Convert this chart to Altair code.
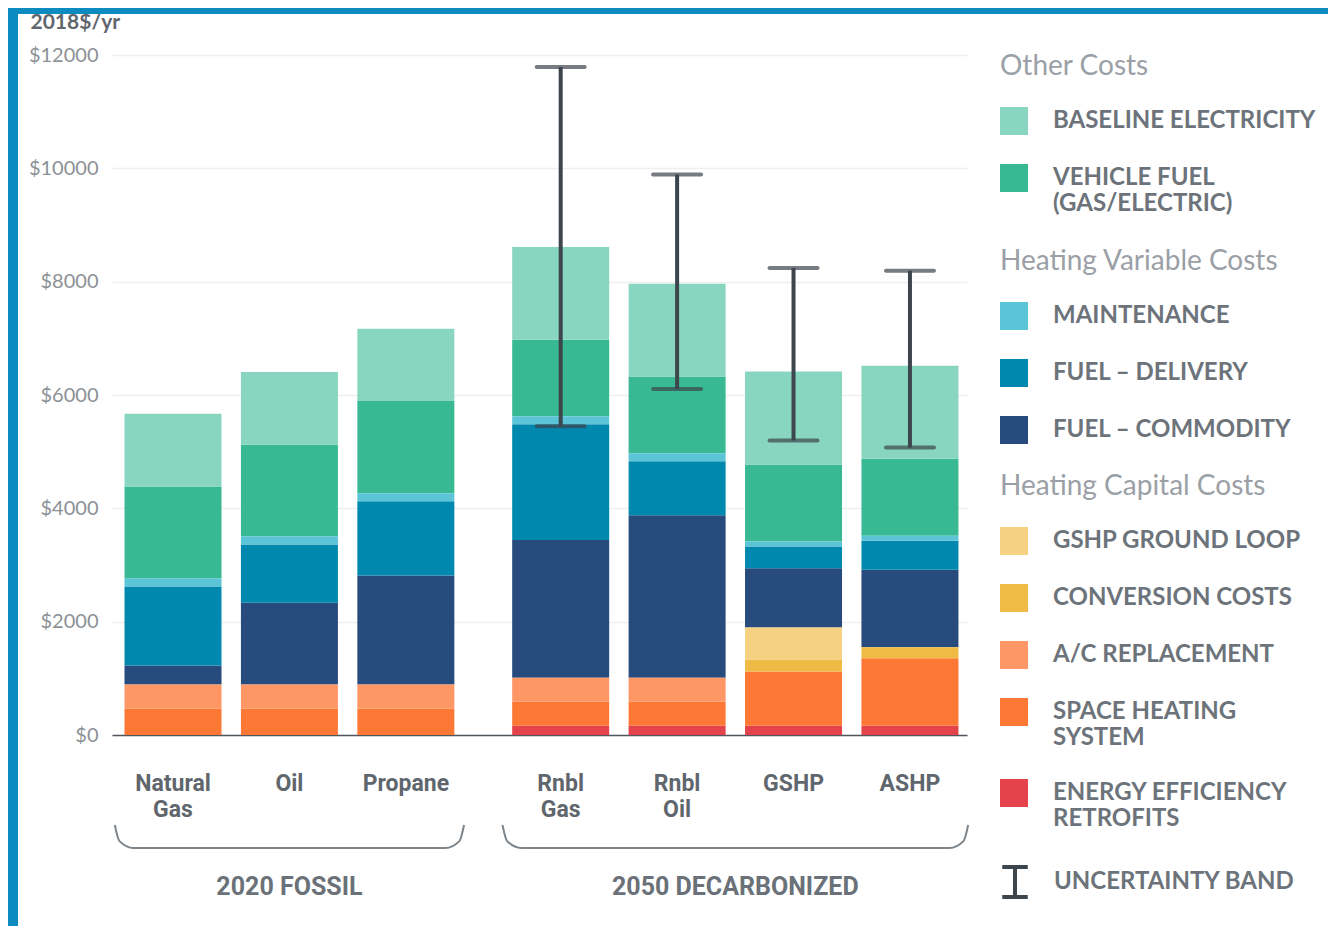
import altair as alt
import pandas as pd

# ---------------- data ----------------
techs = ["Natural Gas", "Oil", "Propane", "Rnbl Gas", "Rnbl Oil", "GSHP", "ASHP"]
tech_labels = ["Natural\nGas", "Oil", "Propane", "Rnbl\nGas", "Rnbl\nOil", "GSHP", "ASHP"]
group_names = ["2020 FOSSIL", "2050 DECARBONIZED"]
tech_group = [0, 0, 0, 1, 1, 1, 1]

# stacked components, bottom to top (2018$/yr)
energy_efficiency = [0, 0, 0, 162, 162, 162, 162]
space_heating = [462, 462, 462, 424, 424, 959, 1194]
ac_replacement = [429, 429, 429, 423, 423, 0, 0]
conversion_costs = [0, 0, 0, 0, 0, 206, 194]
ground_loop = [0, 0, 0, 0, 0, 570, 0]
fuel_commodity = [336, 1442, 1924, 2430, 2871, 1047, 1365]
fuel_delivery = [1394, 1029, 1312, 2047, 953, 383, 511]
maintenance = [147, 142, 141, 141, 141, 88, 88]
vehicle_fuel = [1618, 1618, 1624, 1348, 1354, 1359, 1359]
baseline_electricity = [1283, 1282, 1277, 1635, 1636, 1642, 1641]

unc_low = [None, None, None, 5450, 6104, 5198, 5074]
unc_high = [None, None, None, 11787, 9893, 8239, 8193]

y_ticks = [0, 2000, 4000, 6000, 8000, 10000, 12000]

# ---------------- styling ----------------
components = [
    ("ENERGY EFFICIENCY\nRETROFITS", energy_efficiency, "#e5434b"),
    ("SPACE HEATING\nSYSTEM", space_heating, "#fe7835"),
    ("A/C REPLACEMENT", ac_replacement, "#fe9665"),
    ("CONVERSION COSTS", conversion_costs, "#f0bb45"),
    ("GSHP GROUND LOOP", ground_loop, "#f5d181"),
    ("FUEL – COMMODITY", fuel_commodity, "#264b7c"),
    ("FUEL – DELIVERY", fuel_delivery, "#0088af"),
    ("MAINTENANCE", maintenance, "#5bc4d6"),
    ("VEHICLE FUEL\n(GAS/ELECTRIC)", vehicle_fuel, "#38b994"),
    ("BASELINE ELECTRICITY", baseline_electricity, "#88d6bf"),
]
colors = {name: col for name, _, col in components}

legend_groups = [
    ("Other Costs", ["BASELINE ELECTRICITY", "VEHICLE FUEL\n(GAS/ELECTRIC)"], -2),
    ("Heating Variable Costs", ["MAINTENANCE", "FUEL – DELIVERY", "FUEL – COMMODITY"], 193),
    ("Heating Capital Costs", ["GSHP GROUND LOOP", "CONVERSION COSTS", "A/C REPLACEMENT",
                               "SPACE HEATING\nSYSTEM", "ENERGY EFFICIENCY\nRETROFITS"], 418),
]

GROUP_GAP = 0.33
W, H = 855, 680
PAD = {"left": 104, "top": 47, "right": 361, "bottom": 191}
DARK = "#3d454d"
SPLIT = "split(datum.label, '\\n')"

pos = [i + GROUP_GAP * g for i, g in enumerate(tech_group)]

rows = []
for k, (name, vals, _) in enumerate(components):
    for t, p, v in zip(techs, pos, vals):
        rows.append({"tech": t, "pos": p, "component": name, "value": v, "order": k})
df = pd.DataFrame(rows)

err = pd.DataFrame([
    {"tech": t, "pos": p, "low": lo, "high": hi, "band": "UNCERTAINTY BAND"}
    for t, p, lo, hi in zip(techs, pos, unc_low, unc_high) if lo is not None
])

labels_df = pd.DataFrame({"tech": techs, "pos": pos, "label": tech_labels,
                          "group": [group_names[g] for g in tech_group]})

# brace outlines built from each group's first/last bar position
brace_rows = []
for gi, gname in enumerate(group_names):
    ps = [p for p, g in zip(pos, tech_group) if g == gi]
    x0, x1 = min(ps) - 0.5, max(ps) + 0.5
    shape = [(x0, 0.0), (x0 + 0.04, 0.7), (x0 + 0.16, 1.0),
             (x1 - 0.16, 1.0), (x1 - 0.04, 0.7), (x1, 0.0)]
    for j, (bx, by) in enumerate(shape):
        brace_rows.append({"group": gname, "bx": bx, "by": by, "seq": j})
brace_df = pd.DataFrame(brace_rows)

xscale = alt.Scale(domain=[-0.524, 6 + GROUP_GAP + 0.49], nice=False, zero=False, padding=0)
yscale = alt.Scale(domain=[0, 12000], nice=False)

base = alt.Chart(df).transform_stack(
    stack="value", groupby=["tech"], as_=["y0", "y1"],
    sort=[alt.SortField("order", order="ascending")],
)

layers = []
for li, (title, comps, ly) in enumerate(legend_groups):
    if li == 0:
        xax = alt.Axis(labels=False, ticks=False, grid=False, title=None,
                       domainColor="#50575e", domainWidth=1.5)
        yax = alt.Axis(values=y_ticks, labelExpr="'$' + datum.value",
                       title="2018$/yr", titleAngle=0, titleX=-82, titleY=-27,
                       titleAlign="left", titleBaseline="alphabetic",
                       titleFont="Lato", titleFontSize=21, titleFontWeight="bold",
                       titleColor="#5f666d", labelFont="Lato", labelFontSize=20,
                       labelColor="#8c9196", labelPadding=14, domain=False, ticks=False,
                       gridColor="#efefef", gridWidth=1.5)
    else:
        xax = None
        yax = None
    layers.append(
        base.transform_filter(alt.FieldOneOfPredicate(field="component", oneOf=comps))
        .mark_bar(size=97)
        .encode(
            x=alt.X("pos:Q", scale=xscale, axis=xax),
            y=alt.Y("y0:Q", scale=yscale, axis=yax),
            y2="y1:Q",
            color=alt.Color(
                "component:N",
                scale=alt.Scale(domain=comps, range=[colors[c] for c in comps]),
                legend=alt.Legend(title=title, orient="none", legendX=888, legendY=ly,
                                  labelExpr=SPLIT),
            ),
        )
    )

rule = alt.Chart(err).mark_rule(strokeWidth=4).encode(
    x=alt.X("pos:Q", scale=xscale, axis=None),
    y=alt.Y("low:Q", scale=yscale, axis=None),
    y2="high:Q",
    stroke=alt.Stroke(
        "band:N",
        scale=alt.Scale(domain=["UNCERTAINTY BAND"], range=[DARK]),
        legend=alt.Legend(title=None, orient="none", legendX=886, legendY=810,
                          symbolType="M-0.85,-1H0.85M0,-1V1M-0.85,1H0.85",
                          symbolSize=900, symbolStrokeWidth=4, labelOffset=22,
                          symbolFillColor="transparent"),
    ),
)

caps = alt.Chart(err).transform_fold(["low", "high"], as_=["end", "val"]).mark_tick(
    orient="horizontal", size=52, thickness=4, cornerRadius=2, color=DARK
).encode(
    x=alt.X("pos:Q", scale=xscale, axis=None),
    y=alt.Y("val:Q", scale=yscale, axis=None),
)

cat_text = alt.Chart(labels_df).mark_text(
    font="Roboto", fontWeight="bold", fontSize=23, color="#5f666d",
    baseline="top", align="center", lineBreak="\n", lineHeight=26,
).encode(
    x=alt.X("pos:Q", scale=xscale, axis=None),
    y=alt.value(718),
    text="label:N",
)

group_text = alt.Chart(labels_df).transform_aggregate(
    center="mean(pos)", groupby=["group"]
).mark_text(
    font="Roboto", fontWeight="bold", fontSize=25, color="#6a7178",
    baseline="middle", align="center",
).encode(
    x=alt.X("center:Q", scale=xscale, axis=None),
    y=alt.value(832),
    text="group:N",
)

braces = alt.Chart(brace_df).mark_line(
    color="#7d848a", strokeWidth=2, interpolate="monotone"
).encode(
    x=alt.X("bx:Q", scale=xscale, axis=None),
    y=alt.Y("by:Q", scale=alt.Scale(domain=[0, 1], range=[770, 793]), axis=None),
    detail="group:N",
    order="seq:Q",
)

frame = pd.DataFrame({"edge": ["left", "top"]})
stripe_left = alt.Chart(frame.iloc[:1]).mark_rect(color="#0b8bbf").encode(
    x=alt.value(-PAD["left"]), x2=alt.value(-PAD["left"] + 10),
    y=alt.value(-PAD["top"]), y2=alt.value(H + PAD["bottom"]),
)
stripe_top = alt.Chart(frame.iloc[1:]).mark_rect(color="#0b8bbf").encode(
    x=alt.value(-PAD["left"]), x2=alt.value(W + PAD["right"]),
    y=alt.value(-PAD["top"]), y2=alt.value(-PAD["top"] + 6),
)

chart = alt.layer(
    *layers, rule, caps, cat_text, group_text, braces, stripe_left, stripe_top
).resolve_scale(
    x="independent", y="independent", color="independent"
).properties(
    width=W, height=H, padding=PAD,
    autosize=alt.AutoSizeParams(type="none"),
    background="white",
).configure_view(stroke=None).configure_legend(
    padding=0,
    labelFont="Lato", labelFontWeight="bold", labelFontSize=24, labelColor="#6c737a",
    labelLimit=500, labelOffset=25,
    symbolType="square", symbolSize=784, symbolStrokeWidth=0, symbolOpacity=1,
    titleFont="Lato", titleFontWeight="normal", titleFontSize=28, titleColor="#9aa0a6",
    titlePadding=26, titleLimit=500, rowPadding=29,
)

chart.save("out.html", embed_options={"renderer": "svg", "actions": False})
